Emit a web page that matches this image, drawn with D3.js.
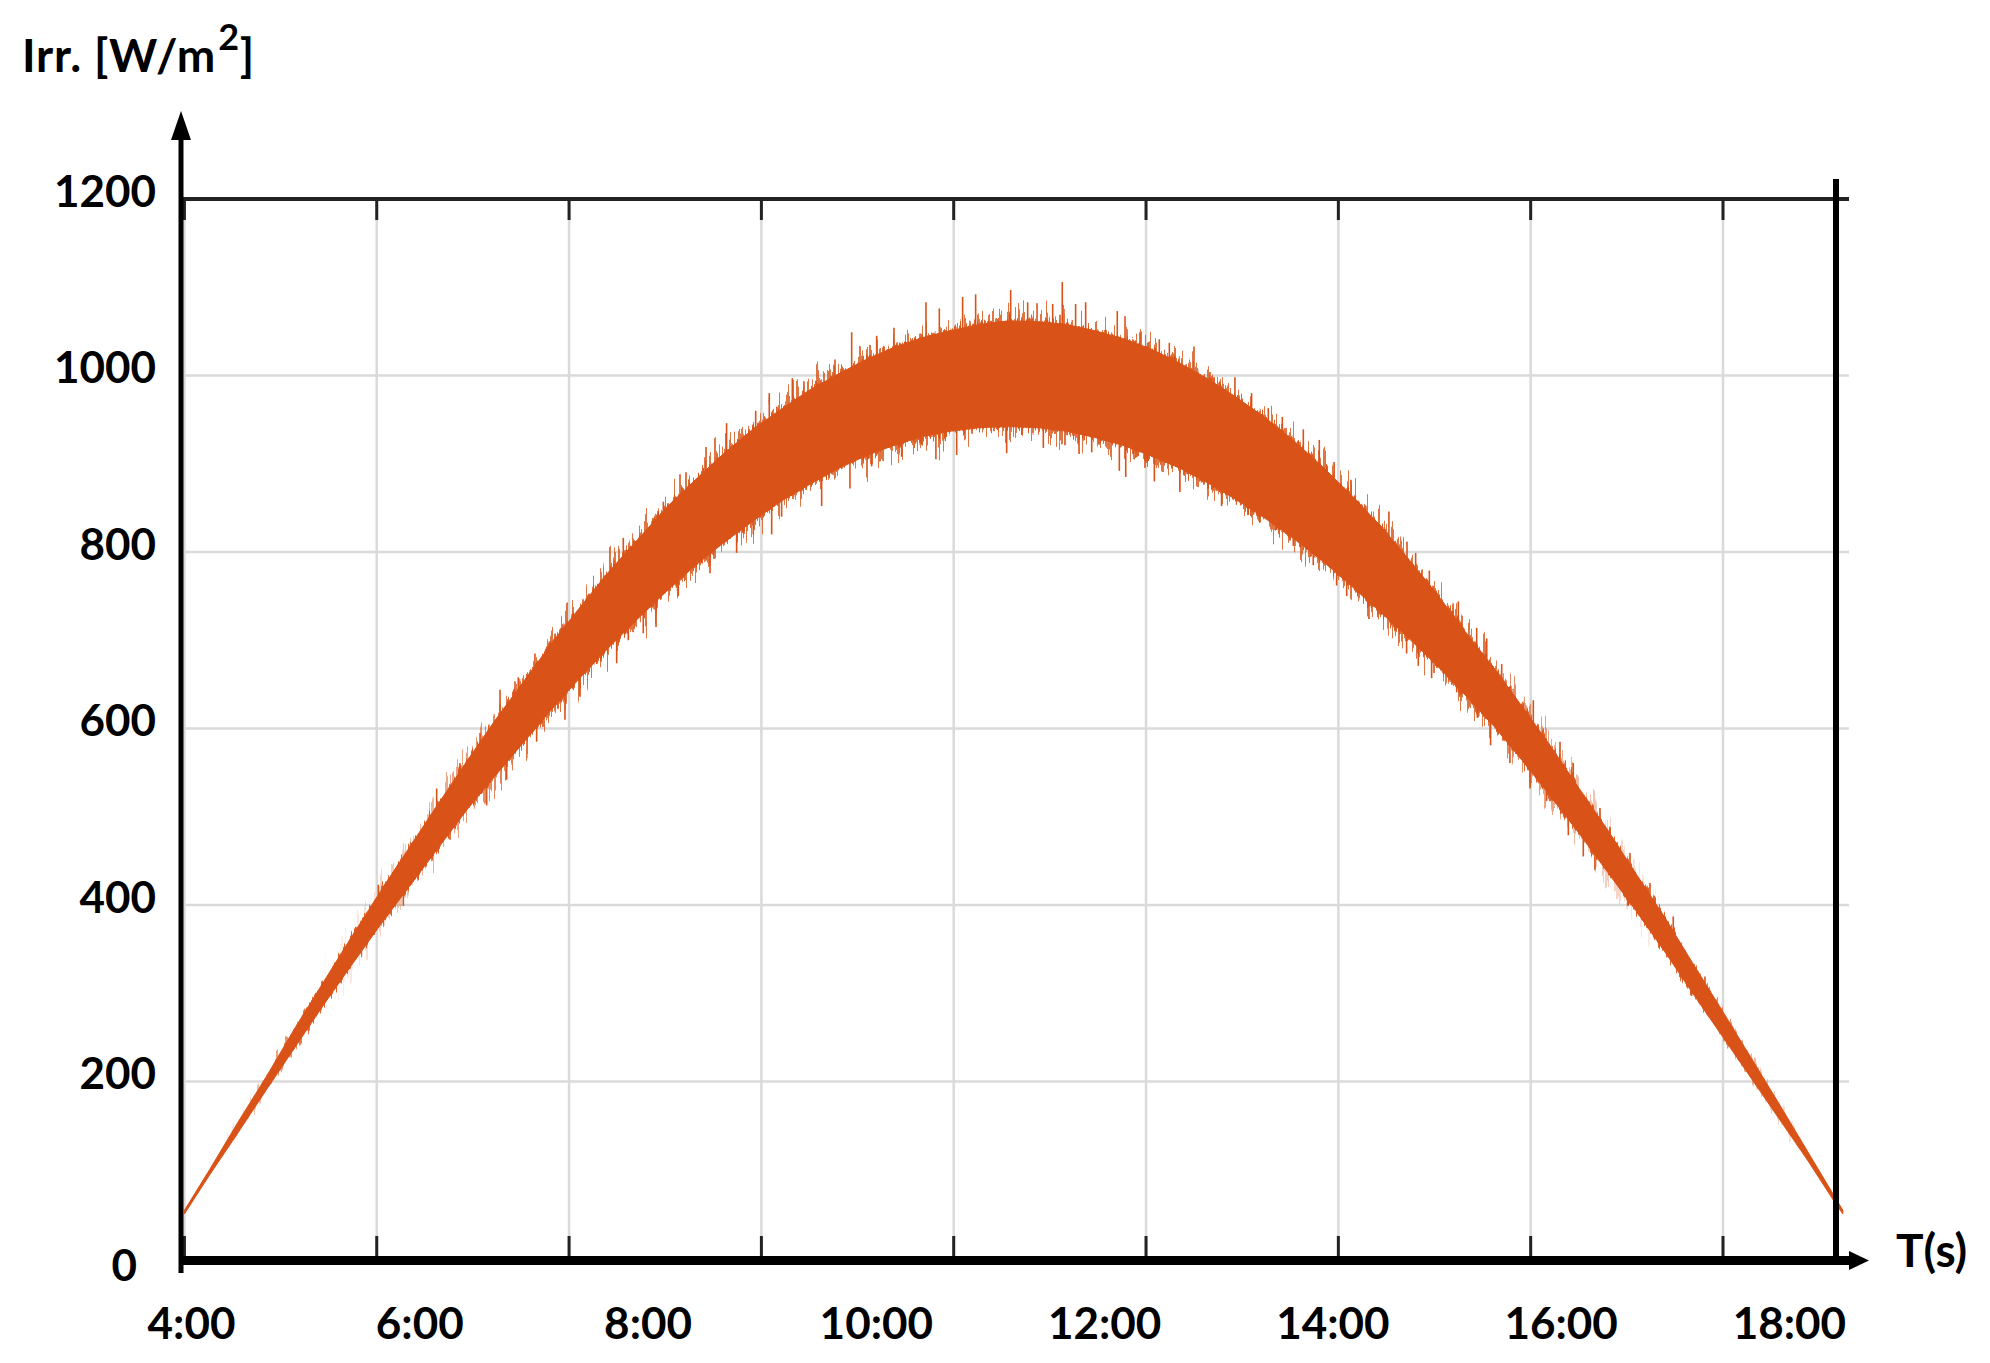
<!DOCTYPE html>
<html>
<head>
<meta charset="utf-8">
<script src="https://cdn.jsdelivr.net/npm/d3@7"></script>
<style>
  body { margin: 0; background: #fff; }
  text { font-family: Lato, "Open Sans", sans-serif; font-weight: 700; fill: #000; }
</style>
</head>
<body>
<div id="chart"></div>
<script>
// time of day in hours
const hours = [4.03, 4.25, 4.5, 4.75, 5, 5.25, 5.5, 5.75, 6, 6.25, 6.5, 6.75, 7, 7.25, 7.5, 7.75,
  8, 8.25, 8.5, 8.75, 9, 9.25, 9.5, 9.75, 10, 10.25, 10.5, 10.75, 11, 11.25, 11.5, 11.75,
  12, 12.25, 12.5, 12.75, 13, 13.25, 13.5, 13.75, 14, 14.25, 14.5, 14.75, 15, 15.25, 15.5, 15.75,
  16, 16.25, 16.5, 16.75, 17, 17.25, 17.5, 17.75, 18, 18.25, 18.5, 18.56];
// upper / lower edge of the dense part of the irradiance band (W/m2)
const irrTop = [54, 100, 154, 206, 261, 313, 365, 416, 465, 514, 562, 609, 653, 697, 738, 778,
  814, 850, 881, 911, 938, 961, 983, 1001, 1018, 1032, 1043, 1051, 1058, 1062, 1061, 1058,
  1051, 1042, 1030, 1014, 996, 975, 952, 926, 897, 865, 831, 793, 753, 710, 669, 625,
  580, 532, 485, 435, 386, 333, 281, 228, 175, 121, 67, 54];
const irrBottom = [50, 94, 142, 191, 239, 287, 333, 378, 421, 464, 507, 546, 584, 622, 658, 692,
  724, 755, 784, 810, 834, 857, 876, 894, 909, 921, 931, 937, 941, 942, 941, 937,
  930, 921, 909, 895, 878, 859, 838, 815, 790, 762, 733, 703, 672, 638, 603, 564,
  523, 481, 437, 393, 347, 299, 252, 205, 158, 111, 61, 50];
// single noise spikes sticking out of the band [hour, W/m2]
const spikesUp = [[5.729, 423], [6.24, 532], [6.444, 561], [6.62, 595], [6.795, 644], [6.955, 658],
  [7.101, 685], [7.233, 699], [7.437, 731], [7.525, 741], [7.875, 816], [8.226, 857], [8.372, 888],
  [8.6, 919], [8.78, 946], [9.035, 960], [9.154, 980], [9.356, 997], [9.73, 1018], [9.876, 1049],
  [10.095, 1045], [10.247, 1054], [10.527, 1083], [10.644, 1076], [10.848, 1089], [10.962, 1092],
  [11.269, 1097], [11.418, 1083], [11.5, 1082], [11.637, 1081], [11.721, 1106], [11.838, 1081],
  [11.926, 1083], [12.203, 1073], [12.271, 1067], [12.402, 1049], [12.571, 1041], [12.659, 1037],
  [12.875, 1033], [13.015, 1004], [13.234, 998], [13.38, 980], [13.526, 963], [13.649, 953],
  [13.833, 939], [13.973, 927], [14.102, 902], [14.25, 882], [14.583, 846], [14.817, 799],
  [14.937, 779], [15.191, 744], [15.352, 714], [15.44, 702], [15.571, 673], [15.848, 632],
  [16.082, 585], [16.198, 561], [16.432, 510], [16.695, 459], [16.87, 425], [17.074, 387], [17.352, 319]];
const spikesDown = [[5.948, 399], [6.357, 474], [6.678, 513], [6.853, 542], [7.116, 585], [7.364, 610],
  [7.496, 636], [7.642, 673], [7.817, 674], [7.919, 700], [8.05, 708], [8.162, 715], [8.357, 750],
  [8.635, 776], [8.868, 799], [9.014, 820], [9.175, 820], [9.262, 840], [9.613, 852], [9.861, 872],
  [10.051, 897], [10.314, 908], [10.614, 905], [10.796, 910], [11.234, 912], [11.555, 918],
  [11.745, 921], [11.868, 911], [11.979, 913], [12.221, 892], [12.277, 885], [12.446, 903],
  [12.528, 880], [12.752, 868], [13.117, 852], [13.351, 842], [13.6, 825], [13.745, 807],
  [13.92, 785], [14.125, 762], [14.213, 750], [14.408, 724], [14.738, 685], [14.84, 671],
  [14.957, 657], [15.177, 641], [15.358, 612], [15.474, 581], [15.643, 561], [15.819, 532],
  [15.965, 518], [16.155, 479], [16.286, 455], [16.388, 440], [16.68, 399], [16.958, 367],
  [17.235, 297], [17.367, 280]];

const yTicks = [0, 200, 400, 600, 800, 1000, 1200];
const xTickHours = [4, 6, 8, 10, 12, 14, 16, 18];
const xTickLabels = ["4:00", "6:00", "8:00", "10:00", "12:00", "14:00", "16:00", "18:00"];
// the grid of the original plot does not follow the hour labels
const gridStart = 4.03, gridStep = 1.685;

const bandColor = "#D95319";
const gridColor = "#dadada";

const W = 1990, H = 1363;
const plotLeft = 181, plotRight = 1836, plotTop = 199, plotBottom = 1258;

const svg = d3.select("#chart").append("svg")
  .attr("width", W).attr("height", H)
  .style("background", "#fff");

const x = d3.scaleLinear().domain([4, 18.5]).range([plotLeft, plotRight]);
const y = d3.scaleLinear().domain([0, 1200]).range([plotBottom, plotTop]);

const gridHours = d3.range(gridStart, 18.5, gridStep);

// hairy edge of the noisy band: vertical-only displacement (texture only)
const defs = svg.append("defs");
const makeFuzz = (id, scale, seed) => {
  const f = defs.append("filter").attr("id", id)
    .attr("x", "-2%").attr("y", "-20%").attr("width", "104%").attr("height", "140%");
  f.append("feTurbulence").attr("type", "fractalNoise")
    .attr("baseFrequency", "0.42 0.012").attr("numOctaves", 2).attr("seed", seed)
    .attr("result", "noise");
  f.append("feColorMatrix").attr("in", "noise").attr("type", "matrix")
    .attr("values", "0 0 0 0 0.5  1 0 0 0 0  0 0 0 0 0  0 0 0 0 1")
    .attr("result", "map");
  f.append("feDisplacementMap").attr("in", "SourceGraphic").attr("in2", "map")
    .attr("scale", scale).attr("xChannelSelector", "R").attr("yChannelSelector", "G");
};
makeFuzz("fuzzBig", 80, 3);
makeFuzz("fuzzSmall", 28, 7);

// fade the texture out towards both ends, where the band is thin
const fade = (id, stops) => {
  const g = defs.append("linearGradient").attr("id", id + "Grad")
    .attr("gradientUnits", "userSpaceOnUse")
    .attr("x1", 0).attr("x2", W).attr("y1", 0).attr("y2", 0);
  stops.forEach(([h, o]) => g.append("stop")
    .attr("offset", x(h) / W).attr("stop-color", "#fff").attr("stop-opacity", o));
  defs.append("mask").attr("id", id)
    .attr("maskUnits", "userSpaceOnUse").attr("x", 0).attr("y", 0).attr("width", W).attr("height", H)
    .append("rect").attr("width", W).attr("height", H).attr("fill", `url(#${id}Grad)`);
};
fade("maskBig", [[5.2, 0], [7, 1], [15.4, 1], [17.1, 0]]);
fade("maskSmall", [[4.3, 0], [5.2, 1], [17.2, 1], [18.3, 0]]);

// grid
svg.append("g").selectAll("line").data(yTicks.filter(d => d > 0 && d < 1200)).join("line")
  .attr("x1", plotLeft).attr("x2", 1849)
  .attr("y1", d => y(d)).attr("y2", d => y(d))
  .attr("stroke", gridColor).attr("stroke-width", 2.5);
svg.append("g").selectAll("line").data(gridHours).join("line")
  .attr("x1", d => x(d)).attr("x2", d => x(d))
  .attr("y1", plotTop).attr("y2", plotBottom)
  .attr("stroke", gridColor).attr("stroke-width", 2.5);

// irradiance band
const band = hours.map((h, i) => ({ h, hi: irrTop[i], lo: irrBottom[i] }));
const area = d3.area().x(d => x(d.h)).y0(d => y(d.lo)).y1(d => y(d.hi));

svg.append("g").attr("mask", "url(#maskSmall)")
  .append("path").datum(band)
  .attr("fill", bandColor).attr("opacity", 0.9)
  .attr("filter", "url(#fuzzSmall)")
  .attr("d", area);
svg.append("g").attr("mask", "url(#maskBig)")
  .append("path").datum(band)
  .attr("fill", bandColor).attr("opacity", 0.8)
  .attr("filter", "url(#fuzzBig)")
  .attr("d", area);
svg.append("path")
  .datum(band)
  .attr("fill", bandColor)
  .attr("stroke", bandColor)
  .attr("stroke-width", 1)
  .attr("d", area);

//middle of the band at a given hour, so spikes start inside it
const bisect = d3.bisector(d => d).left;
const midAt = (h) => {
  let i = Math.min(hours.length - 1, Math.max(1, bisect(hours, h)));
  const t = (h - hours[i - 1]) / (hours[i] - hours[i - 1]);
  const mid = (k) => (irrTop[k] + irrBottom[k]) / 2;
  return mid(i - 1) + t * (mid(i) - mid(i - 1));
};

svg.append("g").selectAll("line").data(spikesUp.concat(spikesDown)).join("line")
  .attr("x1", d => x(d[0])).attr("x2", d => x(d[0]))
  .attr("y1", d => y(d[1])).attr("y2", d => y(midAt(d[0])))
  .attr("stroke", bandColor).attr("stroke-width", 1.6);

// frame: top line, right line
svg.append("line")
  .attr("x1", plotLeft).attr("x2", 1849).attr("y1", plotTop).attr("y2", plotTop)
  .attr("stroke", "#222").attr("stroke-width", 4);
svg.append("line")
  .attr("x1", plotRight).attr("x2", plotRight).attr("y1", 179).attr("y2", 1262)
  .attr("stroke", "#000").attr("stroke-width", 6);

// small ticks at the grid, top and bottom
svg.append("g").selectAll("line").data(gridHours).join("line")
  .attr("x1", d => x(d)).attr("x2", d => x(d))
  .attr("y1", plotTop).attr("y2", plotTop + 21)
  .attr("stroke", "#222").attr("stroke-width", 3);
svg.append("g").selectAll("line").data(gridHours).join("line")
  .attr("x1", d => x(d)).attr("x2", d => x(d))
  .attr("y1", plotBottom - 22).attr("y2", plotBottom)
  .attr("stroke", "#222").attr("stroke-width", 3);

// x axis with arrow
svg.append("line")
  .attr("x1", plotLeft).attr("x2", 1852).attr("y1", 1260.5).attr("y2", 1260.5)
  .attr("stroke", "#000").attr("stroke-width", 9);
svg.append("path")
  .attr("d", "M1849,1251 L1869,1260.5 L1849,1270 Z")
  .attr("fill", "#000");

// y axis with arrow
svg.append("line")
  .attr("x1", plotLeft).attr("x2", plotLeft).attr("y1", 136).attr("y2", 1273)
  .attr("stroke", "#000").attr("stroke-width", 5);
svg.append("path")
  .attr("d", `M${plotLeft - 10},140 L${plotLeft},111 L${plotLeft + 10},140 Z`)
  .attr("fill", "#000");

// tick labels
const yAxis = svg.append("g")
  .attr("transform", `translate(${plotLeft},0)`)
  .call(d3.axisLeft(y).tickValues(yTicks).tickFormat(d3.format("d"))
    .tickSize(0).tickPadding(25));
yAxis.select(".domain").remove();
yAxis.selectAll("text")
  .attr("dy", "0.16em")
  .style("font-size", "44px")
  .style("font-family", "Lato, 'Open Sans', sans-serif")
  .style("font-weight", 700);
yAxis.selectAll("text").filter(d => d === 0).attr("x", -44).attr("dy", "0.52em");

const xAxis = svg.append("g")
  .attr("transform", `translate(0,${plotBottom})`)
  .call(d3.axisBottom(x).tickValues(xTickHours)
    .tickFormat((d, i) => xTickLabels[i]).tickSize(0).tickPadding(50));
xAxis.select(".domain").remove();
xAxis.selectAll("text")
  .attr("dx", 10)
  .style("font-size", "44px")
  .style("font-family", "Lato, 'Open Sans', sans-serif")
  .style("font-weight", 700);

// axis titles
const yTitle = svg.append("text")
  .attr("x", 22).attr("y", 72)
  .style("font-size", "46px")
  .style("letter-spacing", "0.8px");
yTitle.append("tspan").text("Irr. [W/m");
yTitle.append("tspan").attr("dx", 2).attr("dy", -22).style("font-size", "36px").text("2");
yTitle.append("tspan").attr("dx", 0).attr("dy", 22).text("]");

svg.append("text")
  .attr("x", 1896).attr("y", 1267)
  .style("font-size", "46px")
  .text("T(s)");
</script>
</body>
</html>
